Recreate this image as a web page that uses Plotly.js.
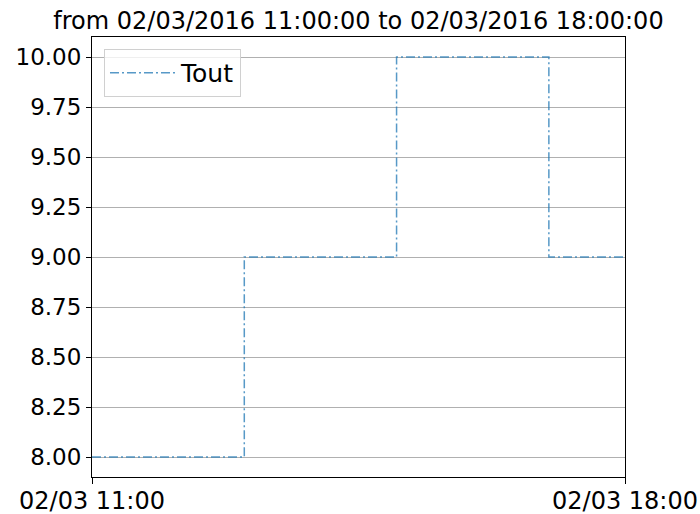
<!DOCTYPE html>
<html><head><meta charset="utf-8">
<script src="https://cdn.plot.ly/plotly-3.0.1.min.js"></script>
<style>body{margin:0;background:#fff}#c{width:700px;height:514px}</style>
</head><body><div id="c"></div>
<script>
const times = ["2016-03-02 11:00","2016-03-02 12:00","2016-03-02 13:00","2016-03-02 14:00","2016-03-02 15:00","2016-03-02 16:00","2016-03-02 17:00","2016-03-02 18:00"];
const tout = [8, 8, 9, 9, 10, 10, 9, 9];
const yTicks = [8.00, 8.25, 8.50, 8.75, 9.00, 9.25, 9.50, 9.75, 10.00];
const xTickVals = ["2016-03-02 11:00","2016-03-02 18:00"];
const xTickText = ["02/03 11:00","02/03 18:00"];
const titleText = "from 02/03/2016 11:00:00 to 02/03/2016 18:00:00";

Plotly.newPlot("c", [{
  x: times, y: tout, type: "scatter", mode: "lines", name: "Tout",
  line: {shape: "hv", color: "rgba(31,119,180,0.75)", width: 1.5, dash: "9px,3px,2px,3px"}
}], {
  width: 700, height: 514,
  margin: {l: 92, r: 75, t: 37, b: 37},
  paper_bgcolor: "#fff", plot_bgcolor: "#fff",
  title: {text: titleText, font: {family: "DejaVu Sans", size: 24, color: "#000"}, xref: "paper", x: 0.5, xanchor: "center", y: 0.977, yanchor: "top"},
  font: {family: "DejaVu Sans", size: 23, color: "#000"},
  showlegend: true,
  legend: {x: 0.0225, y: 0.973, xanchor: "left", yanchor: "top", itemwidth: 66, bgcolor: "rgba(255,255,255,0.8)", bordercolor: "#d0d0d0", borderwidth: 1, font: {family: "DejaVu Sans", size: 25, color: "#000"}},
  xaxis: {type: "date", range: ["2016-03-02 11:00","2016-03-02 18:00"], tickvals: xTickVals, ticktext: xTickText,
    showgrid: false, zeroline: false, showline: true, linecolor: "#000", linewidth: 1, mirror: true,
    ticks: "outside", ticklen: 6, tickcolor: "#000", ticklabelstandoff: -4, tickfont: {family: "DejaVu Sans", size: 24, color: "#000"}},
  yaxis: {range: [7.9, 10.1], tickvals: yTicks, ticktext: yTicks.map(v => v.toFixed(2)),
    showgrid: true, gridcolor: "#b0b0b0", gridwidth: 1, zeroline: false, showline: true, linecolor: "#000", linewidth: 1, mirror: true,
    ticks: "outside", ticklen: 5, tickcolor: "#000", tickfont: {family: "DejaVu Sans", size: 23, color: "#000"}}
}, {displayModeBar: false, staticPlot: true});
</script></body></html>
